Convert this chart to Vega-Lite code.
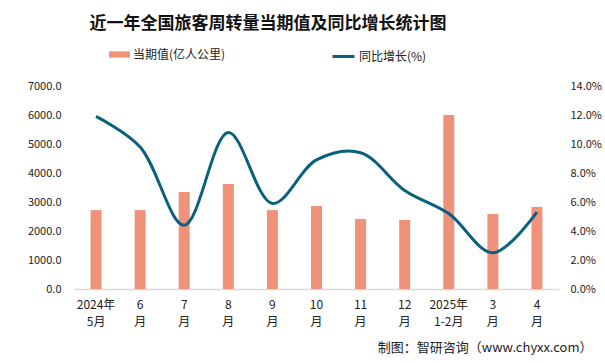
{
  "$schema": "https://vega.github.io/schema/vega-lite/v6.json",
  "autosize": "none",
  "width": 485,
  "height": 203,
  "padding": {"left": 74, "top": 86, "right": 46, "bottom": 74},
  "background": "white",
  "config": {
    "font": "Noto Sans CJK SC",
    "view": {"stroke": null},
    "axis": {"labelFont": "Noto Sans CJK SC", "labelColor": "#222", "labelFontSize": 11, "grid": false, "ticks": false}
  },
  "title": {
    "text": "近一年全国旅客周转量当期值及同比增长统计图",
    "anchor": "start",
    "dx": 62,
    "offset": 11,
    "fontSize": 17,
    "fontWeight": "bold",
    "color": "#111",
    "font": "Noto Sans CJK SC"
  },
  "data": {
    "values": [
      {"m": "2024年|5月", "v": 2720, "p": 11.9},
      {"m": "6|月", "v": 2720, "p": 9.8},
      {"m": "7|月", "v": 3345, "p": 4.4},
      {"m": "8|月", "v": 3620, "p": 10.8},
      {"m": "9|月", "v": 2720, "p": 5.9},
      {"m": "10|月", "v": 2860, "p": 8.9},
      {"m": "11|月", "v": 2415, "p": 9.4},
      {"m": "12|月", "v": 2380, "p": 6.8},
      {"m": "2025年|1-2月", "v": 6000, "p": 5.2},
      {"m": "3|月", "v": 2590, "p": 2.5},
      {"m": "4|月", "v": 2830, "p": 5.3}
    ]
  },
  "encoding": {
    "x": {
      "field": "m",
      "type": "nominal",
      "sort": null,
      "scale": {"paddingInner": 0, "paddingOuter": 0},
      "axis": {
        "labelAngle": 0,
        "labelExpr": "split(datum.label, '|')",
        "labelFontSize": 12,
        "labelLineHeight": 17,
        "labelPadding": 10,
        "domainColor": "#d9d9d9",
        "domainWidth": 1.5,
        "title": "制图：智研咨询（www.chyxx.com）",
        "titleFont": "Noto Sans CJK SC",
        "titleFontSize": 13,
        "titleFontWeight": "normal",
        "titleColor": "#222",
        "titleAnchor": "end",
        "titleAlign": "right",
        "titleBaseline": "middle",
        "titleX": 518,
        "titleY": 58
      }
    }
  },
  "layer": [
    {
      "mark": {"type": "bar", "width": 11},
      "encoding": {
        "y": {
          "field": "v",
          "type": "quantitative",
          "scale": {"domain": [0, 7000], "nice": false},
          "axis": {"values": [0, 1000, 2000, 3000, 4000, 5000, 6000, 7000], "format": ".1f", "labelPadding": 13, "domain": false, "title": null}
        },
        "fill": {
          "datum": "当期值(亿人公里)",
          "type": "nominal",
          "scale": {"range": ["#F0927A"]},
          "legend": {
            "title": null,
            "orient": "none",
            "legendX": 35,
            "legendY": -42,
            "symbolType": "M-1,-0.3H1V0.3H-1Z",
            "symbolSize": 441,
            "symbolStrokeWidth": 0,
            "labelFont": "Noto Sans CJK SC",
            "labelFontSize": 12,
            "labelColor": "#222",
            "labelOffset": 3
          }
        }
      }
    },
    {
      "mark": {"type": "line", "interpolate": "catmull-rom", "strokeWidth": 3},
      "encoding": {
        "y": {
          "field": "p",
          "type": "quantitative",
          "scale": {"domain": [0, 14], "nice": false},
          "axis": {"orient": "right", "values": [0, 2, 4, 6, 8, 10, 12, 14], "labelExpr": "format(datum.value, '.1f') + '%'", "labelPadding": 11, "domain": false, "title": null}
        },
        "stroke": {
          "datum": "同比增长(%)",
          "type": "nominal",
          "scale": {"range": ["#0B5F7F"]},
          "legend": {
            "title": null,
            "orient": "none",
            "legendX": 257,
            "legendY": -42,
            "symbolType": "stroke",
            "symbolSize": 484,
            "symbolStrokeWidth": 3,
            "labelFont": "Noto Sans CJK SC",
            "labelFontSize": 12,
            "labelColor": "#222",
            "labelOffset": 3
          }
        }
      }
    }
  ],
  "resolve": {"scale": {"y": "independent"}}
}
